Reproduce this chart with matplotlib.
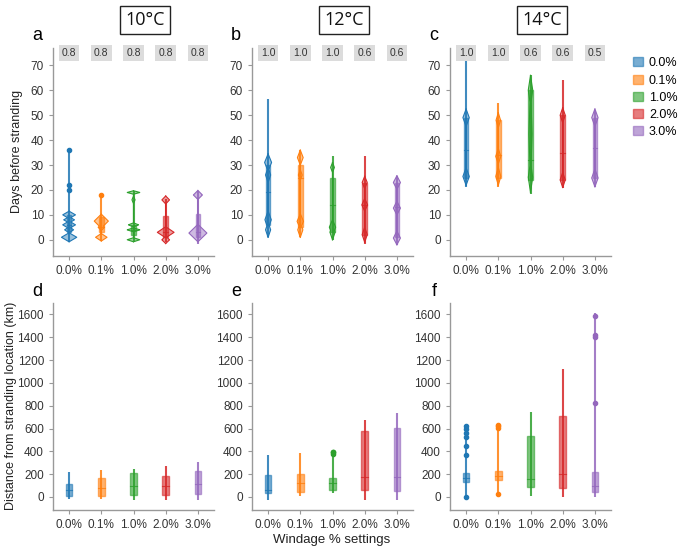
import numpy as np
import matplotlib.pyplot as plt
from matplotlib.patches import Rectangle

plt.rcParams['font.family'] = ['Liberation Sans', 'DejaVu Sans']

settings = ["0.0%", "0.1%", "1.0%", "2.0%", "3.0%"]
colors = ["#1f77b4", "#ff7f0e", "#2ca02c", "#d62728", "#9467bd"]
temps = ["10°C", "12°C", "14°C"]

# ---- days before stranding (top row) ----
# per setting: whisker low/high, box q1/q3, median
days_10_lo = [-0.7, -0.5, -0.5, -1.0, -1.8]
days_10_hi = [36, 18.5, 19.5, 16.5, 19.5]
days_10_q1 = [3, 3, 2, 1, 1]
days_10_q3 = [10, 9, 6, 9.5, 10.5]
days_10_med = [6, 5, 4, 3, 3]
# density bumps: (centre, half-height, half-width)
days_10_bumps = [
    [(10, 1.5, 0.2), (8, 1.2, 0.17), (6, 1.5, 0.2), (4, 1.2, 0.14), (1, 1.8, 0.24)],
    [(7.5, 2.8, 0.22), (5, 1.3, 0.1), (1, 1.5, 0.18)],
    [(19, 0.7, 0.2), (16, 1.5, 0.05), (6, 0.8, 0.16), (4, 0.8, 0.2), (0, 0.8, 0.2)],
    [(16, 1.6, 0.12), (3, 2.2, 0.26), (0, 1.5, 0.12)],
    [(18, 1.8, 0.14), (2.7, 3.5, 0.28)],
]
days_10_dots = [[36, 22, 20], [18], [], [], []]
days_10_frac = [0.8, 0.8, 0.8, 0.8, 0.8]

days_12_lo = [1.3, 1.3, 0, -1.6, -2]
days_12_hi = [56.5, 36, 33.7, 33.5, 25.7]
days_12_q1 = [6, 5, 3, 2, 1]
days_12_q3 = [30, 30, 25, 23, 23]
days_12_med = [19, 25, 14, 14, 13]
days_12_bumps = [
    [(31, 3.5, 0.11), (26, 3, 0.08), (8, 3.5, 0.1), (4, 3, 0.08)],
    [(33, 3, 0.09), (26, 2, 0.06), (7.4, 3, 0.1), (4, 3, 0.08)],
    [(29, 2, 0.06), (5, 3, 0.1), (3, 3, 0.08)],
    [(23, 2.5, 0.08), (14, 2.5, 0.09), (2, 3, 0.08)],
    [(23, 2.7, 0.11), (12.7, 2.7, 0.11), (0.7, 2.7, 0.11)],
]
days_12_dots = [[], [], [], [], []]
days_12_frac = [1.0, 1.0, 1.0, 0.6, 0.6]

days_14_lo = [21.4, 21.4, 18.5, 20.9, 21.3]
days_14_hi = [72.3, 55, 66.3, 64, 52.2]
days_14_q1 = [25, 25, 24, 24, 25]
days_14_q3 = [49, 48, 60, 50, 49]
days_14_med = [36, 34, 32, 35, 37]
days_14_bumps = [
    [(49, 3.5, 0.1), (25.4, 3.5, 0.1)],
    [(48, 3, 0.07), (33.5, 3, 0.08), (25.4, 3.5, 0.08)],
    [(60, 6, 0.07), (42, 18, 0.05), (25, 6, 0.07)],
    [(50, 3, 0.08), (24, 3, 0.08)],
    [(49, 3.5, 0.1), (24.8, 3.5, 0.1)],
]
days_14_dots = [[], [], [], [], []]
days_14_frac = [1.0, 1.0, 0.6, 0.6, 0.5]

# ---- distance from stranding location (bottom row) ----
dist_10_lo = [-20, -15, -25, -25, -30]
dist_10_hi = [221, 235, 245, 270, 310]
dist_10_q1 = [11, 10, 20, 20, 30]
dist_10_q3 = [111, 165, 210, 185, 225]
dist_10_med = [60, 75, 100, 100, 110]
dist_10_dots = [[], [], [], [], []]

dist_12_lo = [-29, 6, 35, -23, -23]
dist_12_hi = [371, 386, 410, 679, 737]
dist_12_q1 = [38, 44, 64, 64, 50]
dist_12_q3 = [190, 205, 167, 576, 608]
dist_12_med = [58, 120, 120, 175, 175]
dist_12_dots = [[], [], [380, 390, 398], [], []]

dist_14_lo = [0, 29, 9, 0, 0]
dist_14_hi = [629, 632, 746, 1120, 1615]
dist_14_q1 = [132, 146, 88, 82, 44]
dist_14_q3 = [211, 225, 532, 711, 219]
dist_14_med = [170, 185, 160, 205, 100]
dist_14_dots = [[0, 366, 445, 530, 560, 600, 620], [29, 608, 620, 632], [], [],
                [1588, 1419, 1404, 828]]

top_panels = [
    (days_10_lo, days_10_hi, days_10_q1, days_10_q3, days_10_med, days_10_bumps, days_10_dots, days_10_frac),
    (days_12_lo, days_12_hi, days_12_q1, days_12_q3, days_12_med, days_12_bumps, days_12_dots, days_12_frac),
    (days_14_lo, days_14_hi, days_14_q1, days_14_q3, days_14_med, days_14_bumps, days_14_dots, days_14_frac),
]
bottom_panels = [
    (dist_10_lo, dist_10_hi, dist_10_q1, dist_10_q3, dist_10_med, None, dist_10_dots, None),
    (dist_12_lo, dist_12_hi, dist_12_q1, dist_12_q3, dist_12_med, None, dist_12_dots, None),
    (dist_14_lo, dist_14_hi, dist_14_q1, dist_14_q3, dist_14_med, None, dist_14_dots, None),
]


def draw_group(ax, x, lo, hi, q1, q3, med, bumps, dots, col, box_hw):
    ax.plot([x, x], [lo, hi], color=col, lw=1.5, alpha=0.85, zorder=2, solid_capstyle="butt")
    ax.add_patch(Rectangle((x - box_hw, q1), 2 * box_hw, q3 - q1, facecolor=col,
                           edgecolor=col, alpha=0.6, lw=1, zorder=3))
    ax.plot([x - box_hw, x + box_hw], [med, med], color=col, lw=0.8, alpha=0.8, zorder=4)
    if bumps:
        ylo = min(c - h for c, h, w in bumps)
        yhi = max(c + h for c, h, w in bumps)
        ys = np.linspace(ylo, yhi, 400)
        ws = np.zeros_like(ys)
        for c, h, w in bumps:
            ws = np.maximum(ws, w * np.clip(1 - np.abs(ys - c) / h, 0, None))
        ax.fill_betweenx(ys, x - ws, x + ws, facecolor=col, alpha=0.45, lw=0, zorder=4)
        ax.plot(x - ws, ys, color=col, lw=0.8, zorder=5)
        ax.plot(x + ws, ys, color=col, lw=0.8, zorder=5)
    if dots:
        ax.plot([x] * len(dots), dots, "o", color=col, ms=3, zorder=6)


def style_axes(ax):
    for s in ["top", "right"]:
        ax.spines[s].set_visible(False)
    for s in ["left", "bottom"]:
        ax.spines[s].set_color("#999999")
        ax.spines[s].set_linewidth(1)
    ax.tick_params(colors="#999999", labelcolor="#333333", labelsize=8.5, length=3, width=0.8)
    ax.set_xticks(range(5))
    ax.set_xticklabels(settings)
    ax.set_xlim(-0.5, 4.5)


fig = plt.figure(figsize=(6.78, 5.51), dpi=100)
W, H = 678, 551
lefts = [53, 252, 450]
w = 161 / W
letters_top = ["a", "b", "c"]
letters_bot = ["d", "e", "f"]

for i in range(3):
    ax = fig.add_axes([lefts[i] / W, 1 - 256 / H, w, 208 / H])
    lo, hi, q1, q3, med, bumps, dots, frac = top_panels[i]
    for k in range(5):
        draw_group(ax, k, lo[k], hi[k], q1[k], q3[k], med[k], bumps[k], dots[k], colors[k], 0.07)
        ax.text(k, 75, f"{frac[k]:.1f}", ha="center", va="center", fontsize=7.5, color="#333333",
                bbox=dict(boxstyle="square,pad=0.3", facecolor="#dcdcdc", edgecolor="none"))
    style_axes(ax)
    ax.set_ylim(-6.5, 77)
    ax.set_yticks(range(0, 71, 10))
    fig.text((lefts[i] + 92) / W, 1 - 20 / H, temps[i], ha="center", va="center",
             fontsize=13, color="#111111", family=["Open Sans", "DejaVu Sans"],
             bbox=dict(boxstyle="square,pad=0.3", facecolor="white", edgecolor="#222222", lw=1))
    fig.text((lefts[i] - 16) / W, 1 - 35 / H, letters_top[i], fontsize=13, ha="center", va="center")

    ax2 = fig.add_axes([lefts[i] / W, 1 - 510 / H, w, 207 / H])
    lo, hi, q1, q3, med, bumps, dots, frac = bottom_panels[i]
    for k in range(5):
        draw_group(ax2, k, lo[k], hi[k], q1[k], q3[k], med[k], bumps, dots[k], colors[k], 0.1)
    style_axes(ax2)
    ax2.set_ylim(-114, 1700)
    ax2.set_yticks(range(0, 1601, 200))
    fig.text((lefts[i] - 16) / W, 1 - 291 / H, letters_bot[i], fontsize=13, ha="center", va="center")

fig.text(17 / W, 1 - 151 / H, "Days before stranding", rotation=90, ha="center", va="center",
         fontsize=9, color="#222222")
fig.text(11 / W, 1 - 406 / H, "Distance from stranding location (km)", rotation=90,
         ha="center", va="center", fontsize=9, color="#222222")
fig.text(332 / W, 1 - 540 / H, "Windage % settings", ha="center", va="center",
         fontsize=9.5, color="#222222")

# legend
handles = [Rectangle((0, 0), 1, 1, facecolor=c, edgecolor=c, alpha=0.6, lw=1) for c in colors]
fig.legend(handles, settings, loc="upper left", bbox_to_anchor=(627 / W, 1 - 51 / H),
           frameon=False, fontsize=9, handlelength=0.75, handleheight=0.75, handletextpad=0.5,
           labelspacing=0.42, borderpad=0)

fig.savefig("out.png", dpi=100)
